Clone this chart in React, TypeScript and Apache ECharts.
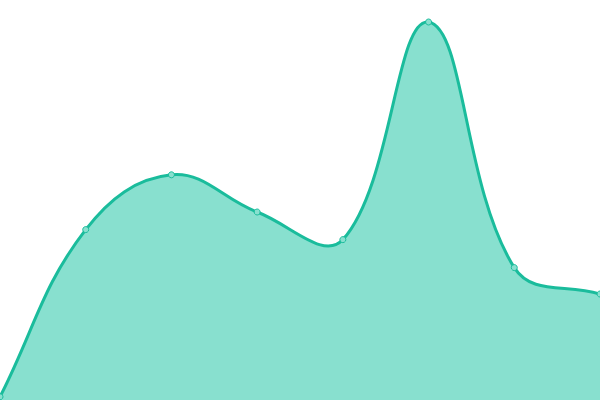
import { useEffect, useRef } from 'react';
import * as echarts from 'echarts';

const categories = ['1', '2', '3', '4', '5', '6', '7', '8'];
const values = [0.8, 42.6, 56.3, 47, 40.1, 94.5, 33.1, 26.5];

const LINE = '#1abc9c';
const AREA = '#88e0cf';
const TENSION = 0.4;

// cardinal spline through the pixel points (no overshoot clamping, like the reference)
function splinePath(pts: number[][]) {
    const cps = pts.map((p1, i) => {
        const p0 = pts[Math.max(i - 1, 0)];
        const p2 = pts[Math.min(i + 1, pts.length - 1)];
        const d01 = Math.hypot(p1[0] - p0[0], p1[1] - p0[1]);
        const d12 = Math.hypot(p2[0] - p1[0], p2[1] - p1[1]);
        let s01 = d01 / (d01 + d12);
        let s12 = d12 / (d01 + d12);
        if (isNaN(s01)) s01 = 0;
        if (isNaN(s12)) s12 = 0;
        const fa = TENSION * s01;
        const fb = TENSION * s12;
        return {
            prev: [p1[0] - fa * (p2[0] - p0[0]), p1[1] - fa * (p2[1] - p0[1])],
            next: [p1[0] + fb * (p2[0] - p0[0]), p1[1] + fb * (p2[1] - p0[1])]
        };
    });
    let d = `M${pts[0][0]},${pts[0][1]}`;
    for (let i = 1; i < pts.length; i++) {
        const a = cps[i - 1].next;
        const b = cps[i].prev;
        d += ` C${a[0]},${a[1]} ${b[0]},${b[1]} ${pts[i][0]},${pts[i][1]}`;
    }
    return d;
}

const App = () => {
    const chartRef = useRef<HTMLDivElement>(null);

    useEffect(() => {
        if (!chartRef.current) return;
        const chart = echarts.init(chartRef.current, null, { renderer: 'svg' });

        const option: echarts.EChartsOption = {
            animation: false,
            grid: { left: 0, right: 0, top: 0, bottom: 0 },
            xAxis: {
                type: 'category',
                boundaryGap: false,
                data: categories,
                show: false
            },
            yAxis: {
                type: 'value',
                min: 0,
                max: 100,
                show: false
            },
            series: [
                {
                    type: 'custom',
                    data: [[0, values[0]]],
                    clip: true,
                    renderItem: (params: any, api: any) => {
                        const pts = values.map((v, i) => api.coord([i, v]));
                        const base = api.coord([0, 0])[1];
                        const curve = splinePath(pts);
                        const last = pts[pts.length - 1];
                        const area = `${curve} L${last[0]},${base} L${pts[0][0]},${base} Z`;
                        return {
                            type: 'group',
                            children: [
                                {
                                    type: 'path',
                                    shape: { pathData: area },
                                    style: { fill: AREA, stroke: 'none' }
                                },
                                {
                                    type: 'path',
                                    shape: { pathData: curve },
                                    style: { fill: 'none', stroke: LINE, lineWidth: 3 }
                                }
                            ]
                        };
                    }
                },
                {
                    type: 'line',
                    symbol: 'circle',
                    symbolSize: 6,
                    lineStyle: { opacity: 0 },
                    itemStyle: { color: AREA, borderColor: LINE, borderWidth: 1 },
                    z: 5,
                    data: values
                }
            ]
        };

        chart.setOption(option);
        return () => chart.dispose();
    }, []);

    return (
        <div
            ref={chartRef}
            style={{ position: 'fixed', left: 0, top: 0, width: '600px', height: '400px' }}
        />
    );
};

export default App;
